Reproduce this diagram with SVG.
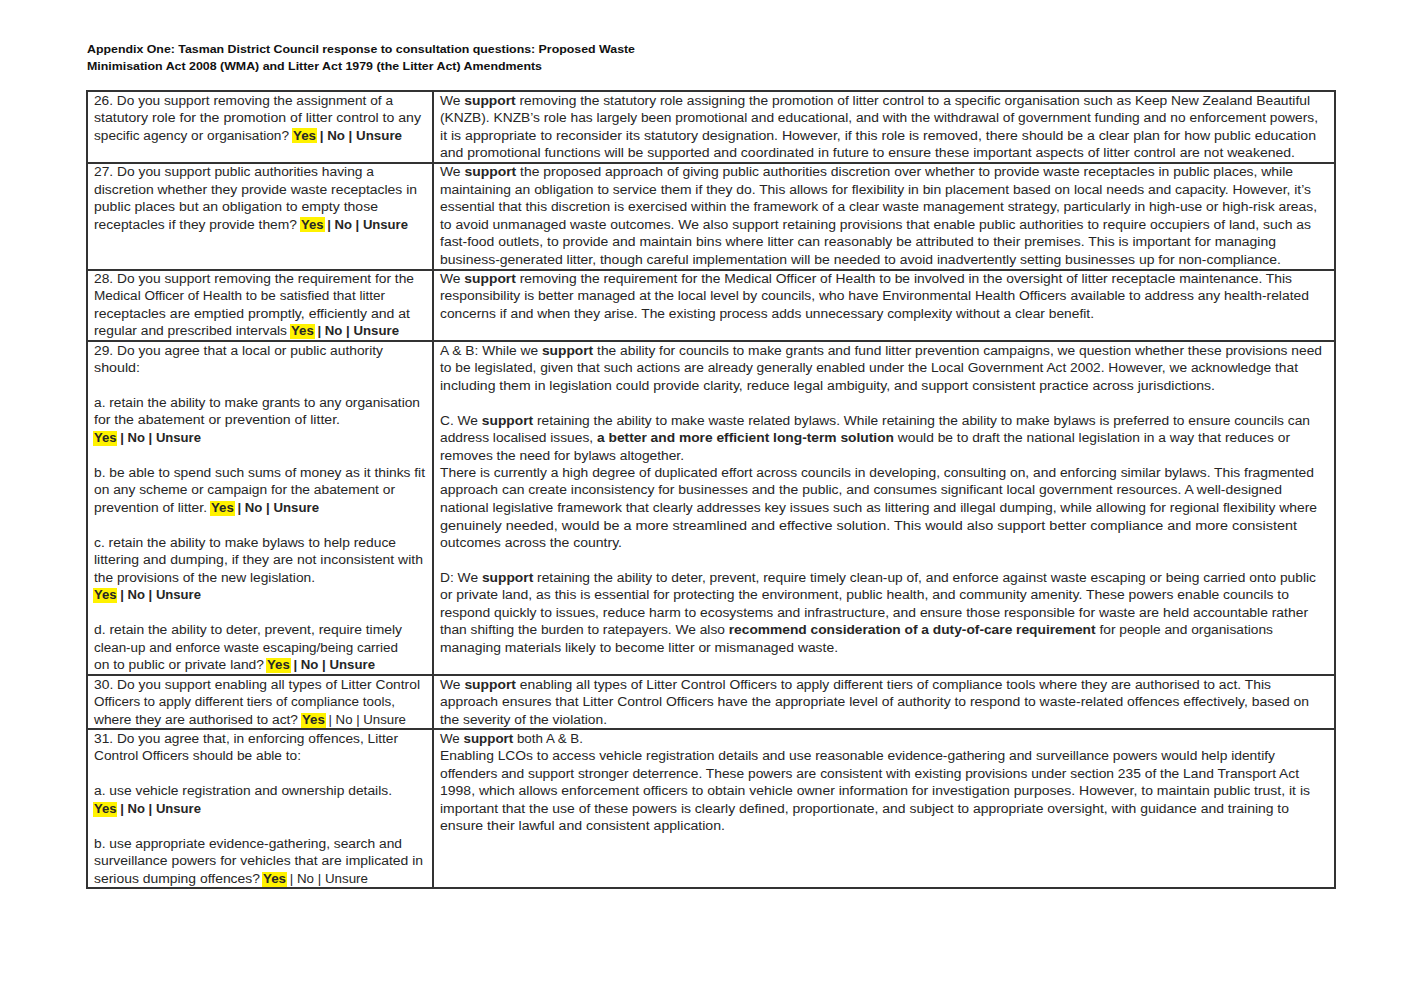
<svg xmlns="http://www.w3.org/2000/svg" width="1421" height="1004" viewBox="0 0 1421 1004">
<style>
text{font-family:"Liberation Sans",Arial,sans-serif;font-size:12.5px;fill:#262626}
.h{font-size:11px;font-weight:bold;fill:#111}
.b{font-weight:bold}
.hl{fill:#fff200}
.g{fill:none;stroke:#333;stroke-width:2}
</style>
<rect width="1421" height="1004" fill="#fff"/>
<g id="header">
<text class="h" x="87" y="53" textLength="548" lengthAdjust="spacingAndGlyphs">Appendix One: Tasman District Council response to consultation questions: Proposed Waste</text>
<text class="h" x="87" y="70" textLength="455" lengthAdjust="spacingAndGlyphs">Minimisation Act 2008 (WMA) and Litter Act 1979 (the Litter Act) Amendments</text>
</g>
<g id="grid">
<rect class="g" x="87" y="91" width="1248" height="797"/>
<line class="g" x1="433" y1="91" x2="433" y2="888"/>
<line class="g" x1="87" y1="163" x2="1335" y2="163"/>
<line class="g" x1="87" y1="270" x2="1335" y2="270"/>
<line class="g" x1="87" y1="341" x2="1335" y2="341"/>
<line class="g" x1="87" y1="675" x2="1335" y2="675"/>
<line class="g" x1="87" y1="729" x2="1335" y2="729"/>
</g>
<g id="highlights">
<rect class="hl" x="292" y="128" width="25" height="15"/>
<rect class="hl" x="300" y="217" width="25" height="15"/>
<rect class="hl" x="290" y="324" width="25" height="15"/>
<rect class="hl" x="93" y="431" width="24" height="15"/>
<rect class="hl" x="210" y="501" width="25" height="15"/>
<rect class="hl" x="93" y="588" width="24" height="15"/>
<rect class="hl" x="266" y="658" width="25" height="15"/>
<rect class="hl" x="301" y="713" width="25" height="15"/>
<rect class="hl" x="93" y="802" width="24" height="15"/>
<rect class="hl" x="262" y="872" width="25" height="15"/>
</g>
<g id="q26">
<text x="94" y="105" textLength="299" lengthAdjust="spacingAndGlyphs">26. Do you support removing the assignment of a</text>
<text x="94" y="122" textLength="327" lengthAdjust="spacingAndGlyphs">statutory role for the promotion of litter control to any</text>
<text x="94" y="140" textLength="195" lengthAdjust="spacingAndGlyphs">specific agency or organisation?</text>
<text x="293" y="140" class="b" textLength="109" lengthAdjust="spacingAndGlyphs">Yes | No | Unsure</text>
<text x="440" y="105" textLength="870" lengthAdjust="spacingAndGlyphs">We <tspan class="b">support</tspan> removing the statutory role assigning the promotion of litter control to a specific organisation such as Keep New Zealand Beautiful</text>
<text x="440" y="122" textLength="878" lengthAdjust="spacingAndGlyphs">(KNZB). KNZB’s role has largely been promotional and educational, and with the withdrawal of government funding and no enforcement powers,</text>
<text x="440" y="140" textLength="876" lengthAdjust="spacingAndGlyphs">it is appropriate to reconsider its statutory designation. However, if this role is removed, there should be a clear plan for how public education</text>
<text x="440" y="157" textLength="855" lengthAdjust="spacingAndGlyphs">and promotional functions will be supported and coordinated in future to ensure these important aspects of litter control are not weakened.</text>
</g>
<g id="q27">
<text x="94" y="176" textLength="280" lengthAdjust="spacingAndGlyphs">27. Do you support public authorities having a</text>
<text x="94" y="194" textLength="323" lengthAdjust="spacingAndGlyphs">discretion whether they provide waste receptacles in</text>
<text x="94" y="211" textLength="284" lengthAdjust="spacingAndGlyphs">public places but an obligation to empty those</text>
<text x="94" y="229" textLength="203" lengthAdjust="spacingAndGlyphs">receptacles if they provide them?</text>
<text x="301" y="229" class="b" textLength="107" lengthAdjust="spacingAndGlyphs">Yes | No | Unsure</text>
<text x="440" y="176" textLength="853" lengthAdjust="spacingAndGlyphs">We <tspan class="b">support</tspan> the proposed approach of giving public authorities discretion over whether to provide waste receptacles in public places, while</text>
<text x="440" y="194" textLength="871" lengthAdjust="spacingAndGlyphs">maintaining an obligation to service them if they do. This allows for flexibility in bin placement based on local needs and capacity. However, it’s</text>
<text x="440" y="211" textLength="877" lengthAdjust="spacingAndGlyphs">essential that this discretion is exercised within the framework of a clear waste management strategy, particularly in high-use or high-risk areas,</text>
<text x="440" y="229" textLength="871" lengthAdjust="spacingAndGlyphs">to avoid unmanaged waste outcomes. We also support retaining provisions that enable public authorities to require occupiers of land, such as</text>
<text x="440" y="246" textLength="836" lengthAdjust="spacingAndGlyphs">fast-food outlets, to provide and maintain bins where litter can reasonably be attributed to their premises. This is important for managing</text>
<text x="440" y="264" textLength="841" lengthAdjust="spacingAndGlyphs">business-generated litter, though careful implementation will be needed to avoid inadvertently setting businesses up for non-compliance.</text>
</g>
<g id="q28">
<text x="94" y="283" textLength="320" lengthAdjust="spacingAndGlyphs">28. Do you support removing the requirement for the</text>
<text x="94" y="300" textLength="291" lengthAdjust="spacingAndGlyphs">Medical Officer of Health to be satisfied that litter</text>
<text x="94" y="318" textLength="316" lengthAdjust="spacingAndGlyphs">receptacles are emptied promptly, efficiently and at</text>
<text x="94" y="335" textLength="193" lengthAdjust="spacingAndGlyphs">regular and prescribed intervals</text>
<text x="291" y="335" class="b" textLength="108" lengthAdjust="spacingAndGlyphs">Yes | No | Unsure</text>
<text x="440" y="283" textLength="852" lengthAdjust="spacingAndGlyphs">We <tspan class="b">support</tspan> removing the requirement for the Medical Officer of Health to be involved in the oversight of litter receptacle maintenance. This</text>
<text x="440" y="300" textLength="869" lengthAdjust="spacingAndGlyphs">responsibility is better managed at the local level by councils, who have Environmental Health Officers available to address any health-related</text>
<text x="440" y="318" textLength="654" lengthAdjust="spacingAndGlyphs">concerns if and when they arise. The existing process adds unnecessary complexity without a clear benefit.</text>
</g>
<g id="q29">
<text x="94" y="355" textLength="289" lengthAdjust="spacingAndGlyphs">29. Do you agree that a local or public authority</text>
<text x="94" y="372" textLength="46" lengthAdjust="spacingAndGlyphs">should:</text>
<text x="94" y="407" textLength="326" lengthAdjust="spacingAndGlyphs">a. retain the ability to make grants to any organisation</text>
<text x="94" y="424" textLength="246" lengthAdjust="spacingAndGlyphs">for the abatement or prevention of litter.</text>
<text x="94" y="442" class="b" textLength="107" lengthAdjust="spacingAndGlyphs">Yes | No | Unsure</text>
<text x="94" y="477" textLength="331" lengthAdjust="spacingAndGlyphs">b. be able to spend such sums of money as it thinks fit</text>
<text x="94" y="494" textLength="301" lengthAdjust="spacingAndGlyphs">on any scheme or campaign for the abatement or</text>
<text x="94" y="512" textLength="113" lengthAdjust="spacingAndGlyphs">prevention of litter.</text>
<text x="211" y="512" class="b" textLength="108" lengthAdjust="spacingAndGlyphs">Yes | No | Unsure</text>
<text x="94" y="547" textLength="302" lengthAdjust="spacingAndGlyphs">c. retain the ability to make bylaws to help reduce</text>
<text x="94" y="564" textLength="329" lengthAdjust="spacingAndGlyphs">littering and dumping, if they are not inconsistent with</text>
<text x="94" y="582" textLength="221" lengthAdjust="spacingAndGlyphs">the provisions of the new legislation.</text>
<text x="94" y="599" class="b" textLength="107" lengthAdjust="spacingAndGlyphs">Yes | No | Unsure</text>
<text x="94" y="634" textLength="308" lengthAdjust="spacingAndGlyphs">d. retain the ability to deter, prevent, require timely</text>
<text x="94" y="652" textLength="304" lengthAdjust="spacingAndGlyphs">clean-up and enforce waste escaping/being carried</text>
<text x="94" y="669" textLength="170" lengthAdjust="spacingAndGlyphs">on to public or private land?</text>
<text x="267" y="669" class="b" textLength="108" lengthAdjust="spacingAndGlyphs">Yes | No | Unsure</text>
<text x="440" y="355" textLength="882" lengthAdjust="spacingAndGlyphs">A &amp; B: While we <tspan class="b">support</tspan> the ability for councils to make grants and fund litter prevention campaigns, we question whether these provisions need</text>
<text x="440" y="372" textLength="858" lengthAdjust="spacingAndGlyphs">to be legislated, given that such actions are already generally enabled under the Local Government Act 2002. However, we acknowledge that</text>
<text x="440" y="390" textLength="775" lengthAdjust="spacingAndGlyphs">including them in legislation could provide clarity, reduce legal ambiguity, and support consistent practice across jurisdictions.</text>
<text x="440" y="425" textLength="870" lengthAdjust="spacingAndGlyphs">C. We <tspan class="b">support</tspan> retaining the ability to make waste related bylaws. While retaining the ability to make bylaws is preferred to ensure councils can</text>
<text x="440" y="442" textLength="850" lengthAdjust="spacingAndGlyphs">address localised issues, <tspan class="b">a better and more efficient long-term solution</tspan> would be to draft the national legislation in a way that reduces or</text>
<text x="440" y="460" textLength="244" lengthAdjust="spacingAndGlyphs">removes the need for bylaws altogether.</text>
<text x="440" y="477" textLength="874" lengthAdjust="spacingAndGlyphs">There is currently a high degree of duplicated effort across councils in developing, consulting on, and enforcing similar bylaws. This fragmented</text>
<text x="440" y="494" textLength="842" lengthAdjust="spacingAndGlyphs">approach can create inconsistency for businesses and the public, and consumes significant local government resources. A well-designed</text>
<text x="440" y="512" textLength="877" lengthAdjust="spacingAndGlyphs">national legislative framework that clearly addresses key issues such as littering and illegal dumping, while allowing for regional flexibility where</text>
<text x="440" y="530" textLength="857" lengthAdjust="spacingAndGlyphs">genuinely needed, would be a more streamlined and effective solution. This would also support better compliance and more consistent</text>
<text x="440" y="547" textLength="182" lengthAdjust="spacingAndGlyphs">outcomes across the country.</text>
<text x="440" y="582" textLength="876" lengthAdjust="spacingAndGlyphs">D: We <tspan class="b">support</tspan> retaining the ability to deter, prevent, require timely clean-up of, and enforce against waste escaping or being carried onto public</text>
<text x="440" y="599" textLength="849" lengthAdjust="spacingAndGlyphs">or private land, as this is essential for protecting the environment, public health, and community amenity. These powers enable councils to</text>
<text x="440" y="617" textLength="868" lengthAdjust="spacingAndGlyphs">respond quickly to issues, reduce harm to ecosystems and infrastructure, and ensure those responsible for waste are held accountable rather</text>
<text x="440" y="634" textLength="833" lengthAdjust="spacingAndGlyphs">than shifting the burden to ratepayers. We also <tspan class="b">recommend consideration of a duty-of-care requirement</tspan> for people and organisations</text>
<text x="440" y="652" textLength="398" lengthAdjust="spacingAndGlyphs">managing materials likely to become litter or mismanaged waste.</text>
</g>
<g id="q30">
<text x="94" y="689" textLength="326" lengthAdjust="spacingAndGlyphs">30. Do you support enabling all types of Litter Control</text>
<text x="94" y="706" textLength="301" lengthAdjust="spacingAndGlyphs">Officers to apply different tiers of compliance tools,</text>
<text x="94" y="724" textLength="204" lengthAdjust="spacingAndGlyphs">where they are authorised to act?</text>
<text x="302" y="724" textLength="104" lengthAdjust="spacingAndGlyphs"><tspan class="b">Yes</tspan> | No | Unsure</text>
<text x="440" y="689" textLength="831" lengthAdjust="spacingAndGlyphs">We <tspan class="b">support</tspan> enabling all types of Litter Control Officers to apply different tiers of compliance tools where they are authorised to act. This</text>
<text x="440" y="706" textLength="869" lengthAdjust="spacingAndGlyphs">approach ensures that Litter Control Officers have the appropriate level of authority to respond to waste-related offences effectively, based on</text>
<text x="440" y="724" textLength="167" lengthAdjust="spacingAndGlyphs">the severity of the violation.</text>
</g>
<g id="q31">
<text x="94" y="743" textLength="304" lengthAdjust="spacingAndGlyphs">31. Do you agree that, in enforcing offences, Litter</text>
<text x="94" y="760" textLength="207" lengthAdjust="spacingAndGlyphs">Control Officers should be able to:</text>
<text x="94" y="795" textLength="298" lengthAdjust="spacingAndGlyphs">a. use vehicle registration and ownership details.</text>
<text x="94" y="813" class="b" textLength="107" lengthAdjust="spacingAndGlyphs">Yes | No | Unsure</text>
<text x="94" y="848" textLength="308" lengthAdjust="spacingAndGlyphs">b. use appropriate evidence-gathering, search and</text>
<text x="94" y="865" textLength="329" lengthAdjust="spacingAndGlyphs">surveillance powers for vehicles that are implicated in</text>
<text x="94" y="883" textLength="166" lengthAdjust="spacingAndGlyphs">serious dumping offences?</text>
<text x="263" y="883" textLength="105" lengthAdjust="spacingAndGlyphs"><tspan class="b">Yes</tspan> | No | Unsure</text>
<text x="440" y="743" textLength="143" lengthAdjust="spacingAndGlyphs">We <tspan class="b">support</tspan> both A &amp; B.</text>
<text x="440" y="760" textLength="835" lengthAdjust="spacingAndGlyphs">Enabling LCOs to access vehicle registration details and use reasonable evidence-gathering and surveillance powers would help identify</text>
<text x="440" y="778" textLength="859" lengthAdjust="spacingAndGlyphs">offenders and support stronger deterrence. These powers are consistent with existing provisions under section 235 of the Land Transport Act</text>
<text x="440" y="795" textLength="870" lengthAdjust="spacingAndGlyphs">1998, which allows enforcement officers to obtain vehicle owner information for investigation purposes. However, to maintain public trust, it is</text>
<text x="440" y="813" textLength="849" lengthAdjust="spacingAndGlyphs">important that the use of these powers is clearly defined, proportionate, and subject to appropriate oversight, with guidance and training to</text>
<text x="440" y="830" textLength="285" lengthAdjust="spacingAndGlyphs">ensure their lawful and consistent application.</text>
</g>
</svg>
